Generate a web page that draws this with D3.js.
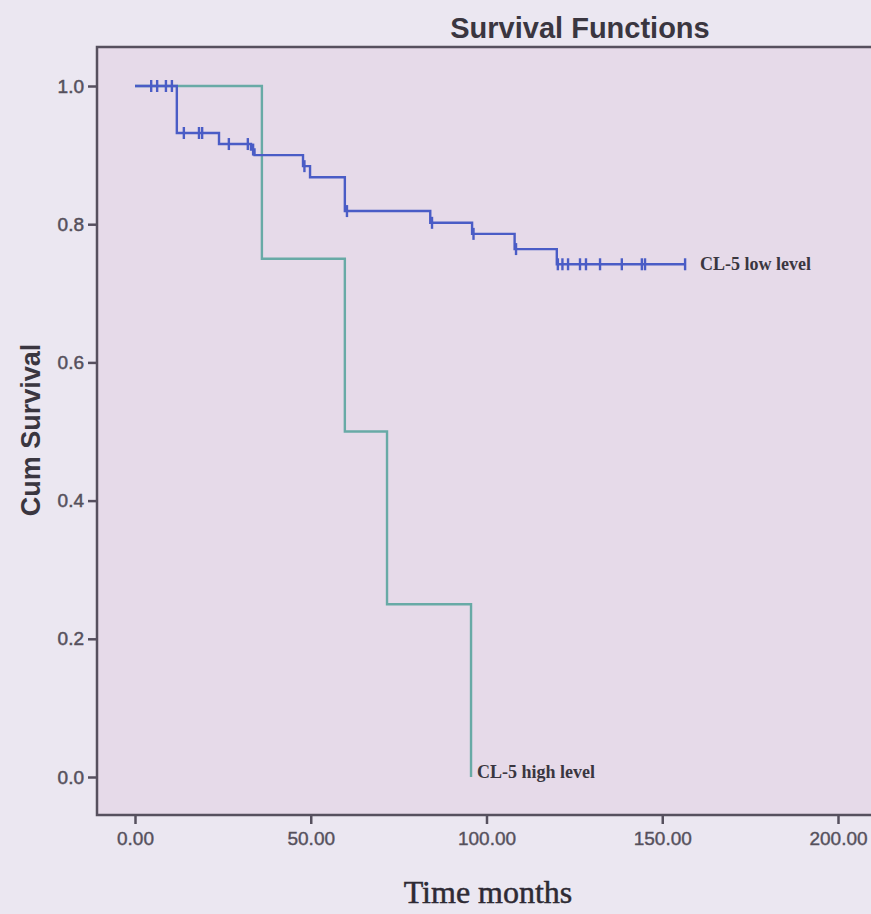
<!DOCTYPE html>
<html>
<head>
<meta charset="utf-8">
<script src="https://cdn.jsdelivr.net/npm/d3@7"></script>
<style>
  html, body { margin: 0; padding: 0; background: #ebe7f1; }
  svg { display: block; }
</style>
</head>
<body>
<div id="chart"></div>
<script>
// x tick labels and y tick labels
var xTicks = [0, 50, 100, 150, 200];
var yTicks = [0, 0.2, 0.4, 0.6, 0.8, 1.0];

// CL-5 high level: step times (months) and survival after each step
var highTimes = [0, 36.1, 59.7, 71.7, 95.6];
var highSurv  = [1.0, 0.75, 0.5, 0.25, 0.0];

// CL-5 low level: step times and survival after each step (last point = end of follow-up)
var lowTimes = [0, 11.9, 23.9, 33.0, 34.0, 47.8, 49.8, 59.7, 84.0, 95.9, 108.0, 120.0, 156.5];
var lowSurv  = [1.0, 0.932, 0.916, 0.908, 0.900, 0.884, 0.868, 0.819, 0.802, 0.786, 0.764, 0.742, 0.742];

// CL-5 low level: censored times
var lowCensor = [4.6, 6.3, 8.8, 10.5, 13.9, 18.2, 19.1, 26.7, 32.1, 33.6, 48.2, 60.3,
                 84.5, 96.3, 108.4, 120.3, 121.6, 123.2, 126.6, 128.3, 132.3, 138.5,
                 144.2, 145.1, 156.5];

var W = 871, H = 914;
var svg = d3.select("#chart").append("svg")
  .attr("width", W).attr("height", H)
  .style("background", "#ebe7f1");

// plot area (frame runs off the right side like the scan)
var frame = {left: 97, top: 47, right: 905, bottom: 815};

var x = d3.scaleLinear().domain([0, 200]).range([135, 838]);
var y = d3.scaleLinear().domain([0, 1]).range([777, 86]);

svg.append("rect")
  .attr("x", frame.left).attr("y", frame.top)
  .attr("width", frame.right - frame.left)
  .attr("height", frame.bottom - frame.top)
  .attr("fill", "#e6dae9")
  .attr("stroke", "#56505e")
  .attr("stroke-width", 2.5);

// y axis
var yAxis = svg.append("g")
  .attr("transform", "translate(" + frame.left + ",0)")
  .call(d3.axisLeft(y).tickValues(yTicks).tickFormat(d3.format(".1f")).tickSize(9).tickPadding(4));
yAxis.select(".domain").remove();
yAxis.selectAll(".tick line").attr("stroke", "#56505e").attr("stroke-width", 2.5);
yAxis.selectAll(".tick text")
  .attr("fill", "#55505c")
  .attr("stroke", "#55505c").attr("stroke-width", 0.5)
  .style("font", "19px 'Liberation Sans', Arial, sans-serif");

// x axis
var xAxis = svg.append("g")
  .attr("transform", "translate(0," + frame.bottom + ")")
  .call(d3.axisBottom(x).tickValues(xTicks).tickFormat(d3.format(".2f")).tickSize(9).tickPadding(8));
xAxis.select(".domain").remove();
xAxis.selectAll(".tick line").attr("stroke", "#56505e").attr("stroke-width", 2.5);
xAxis.selectAll(".tick text")
  .attr("fill", "#55505c")
  .attr("stroke", "#55505c").attr("stroke-width", 0.4)
  .style("font", "19px 'Liberation Sans Narrow', 'Liberation Sans', Arial, sans-serif");

// survival curves
var step = d3.line()
  .x(function(d) { return x(d[0]); })
  .y(function(d) { return y(d[1]); })
  .curve(d3.curveStepAfter);

var highData = highTimes.map(function(t, i) { return [t, highSurv[i]]; });
var lowData = lowTimes.map(function(t, i) { return [t, lowSurv[i]]; });

svg.append("path")
  .datum(highData)
  .attr("fill", "none")
  .attr("stroke", "#68aaa6")
  .attr("stroke-width", 2.4)
  .attr("d", step);

svg.append("path")
  .datum(lowData)
  .attr("fill", "none")
  .attr("stroke", "#4a5cc6")
  .attr("stroke-width", 2.4)
  .attr("d", step);

// survival value of the low group at time t
function lowAt(t) {
  var s = lowSurv[0];
  for (var i = 0; i < lowTimes.length; i++) {
    if (lowTimes[i] <= t) s = lowSurv[i];
  }
  return s;
}

svg.append("g").selectAll("line")
  .data(lowCensor)
  .enter().append("line")
  .attr("x1", function(d) { return x(d); })
  .attr("x2", function(d) { return x(d); })
  .attr("y1", function(d) { return y(lowAt(d)) - 6; })
  .attr("y2", function(d) { return y(lowAt(d)) + 6; })
  .attr("stroke", "#4a5cc6")
  .attr("stroke-width", 2.4);

// line labels
svg.append("text")
  .attr("x", x(156.5) + 15).attr("y", y(0.742) + 6)
  .attr("fill", "#3a3640")
  .style("font", "bold 18px 'Liberation Serif', 'Times New Roman', serif")
  .text("CL-5 low level");

svg.append("text")
  .attr("x", x(95.6) + 6).attr("y", y(0) + 1)
  .attr("fill", "#3a3640")
  .style("font", "bold 18px 'Liberation Serif', 'Times New Roman', serif")
  .text("CL-5 high level");

// titles
svg.append("text")
  .attr("x", 580).attr("y", 38)
  .attr("text-anchor", "middle")
  .attr("fill", "#3a3640")
  .style("font", "bold 29px 'Liberation Sans', Arial, sans-serif")
  .text("Survival Functions");

svg.append("text")
  .attr("transform", "translate(40,430) rotate(-90)")
  .attr("text-anchor", "middle")
  .attr("fill", "#3a3640")
  .style("font", "bold 27px 'Liberation Sans', Arial, sans-serif")
  .text("Cum Survival");

svg.append("text")
  .attr("x", 488).attr("y", 903)
  .attr("text-anchor", "middle")
  .attr("fill", "#2e2a34")
  .attr("stroke", "#2e2a34").attr("stroke-width", 0.5)
  .style("font", "32px 'Liberation Serif', 'Times New Roman', serif")
  .text("Time months");
</script>
</body>
</html>
